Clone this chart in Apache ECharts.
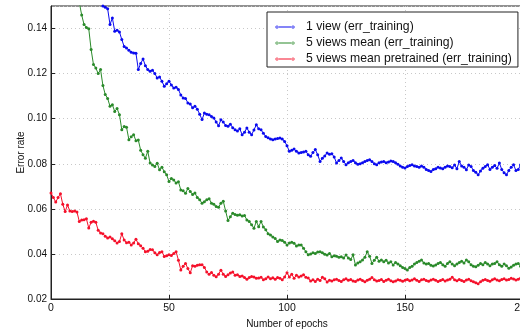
<!DOCTYPE html>
<html><head><meta charset="utf-8">
<script src="https://cdn.jsdelivr.net/npm/echarts@6/dist/echarts.min.js"></script>
<style>html,body{margin:0;padding:0;background:#fff}#c{width:520px;height:334px}</style>
</head><body><div id="c"></div>
<script>
const seriesNames = ['1 view (err_training)', '5 views mean (err_training)', '5 views mean pretrained (err_training)'];
const xTicks = [0, 50, 100, 150, 200];
const yTicks = [0.02, 0.04, 0.06, 0.08, 0.10, 0.12, 0.14];

const blueStart = 20;
const blue = [
0.160,0.155,0.150,0.1495,0.1488,0.1418,0.1447,0.1388,0.1392,0.1385,
0.1351,0.132,0.1314,0.1304,0.1295,0.1292,0.129,0.1218,0.1245,0.1265,
0.1235,0.1218,0.121,0.1215,0.120,0.1181,0.1185,0.1166,0.1144,0.1155,
0.1166,0.115,0.1136,0.114,0.1129,0.1105,0.1092,0.109,0.107,0.1065,
0.1048,0.1055,0.1042,0.102,0.0996,0.1025,0.102,0.1018,0.101,0.1003,
0.0985,0.0969,0.0995,0.0985,0.097,0.0966,0.0975,0.096,0.0951,0.0945,
0.0955,0.0929,0.094,0.0959,0.094,0.0929,0.095,0.0973,0.0955,0.0951,
0.0935,0.0921,0.0915,0.091,0.0907,0.091,0.0912,0.0914,0.091,0.0899,
0.088,0.0855,0.086,0.0865,0.0855,0.0848,0.085,0.0852,0.0855,0.084,
0.0833,0.085,0.0863,0.084,0.081,0.0825,0.0835,0.0848,0.0842,0.0845,
0.083,0.0803,0.0815,0.0826,0.081,0.0796,0.0805,0.081,0.0815,0.0805,
0.0798,0.080,0.0805,0.081,0.0815,0.0818,0.081,0.080,0.0796,0.0805,
0.0808,0.081,0.0805,0.0808,0.0812,0.081,0.0805,0.0798,0.079,0.0785,
0.0781,0.0788,0.0792,0.0796,0.079,0.0788,0.0785,0.079,0.0785,0.0775,
0.077,0.0766,0.0775,0.0778,0.0785,0.0781,0.0778,0.0785,0.079,0.0788,
0.0782,0.0795,0.0778,0.081,0.079,0.0785,0.0774,0.0795,0.0788,0.077,
0.0762,0.0751,0.0768,0.078,0.0788,0.0796,0.0775,0.0785,0.0792,0.078,
0.0803,0.0775,0.076,0.0751,0.077,0.0785,0.0796,0.077,0.0775,0.0795,
0.0768
];

const greenStart = 10;
const green = [
0.162,0.156,0.1515,0.146,0.1418,0.1405,0.1399,0.1307,0.124,0.1225,
0.120,0.1218,0.1147,0.1107,0.109,0.1055,0.1062,0.1032,0.1045,0.1018,
0.0951,0.0965,0.0962,0.0907,0.092,0.0929,0.0902,0.0905,0.086,0.084,
0.0825,0.0855,0.0803,0.0795,0.0788,0.0802,0.0773,0.0785,0.0765,0.0751,
0.0721,0.0735,0.0728,0.0715,0.072,0.0684,0.068,0.0669,0.069,0.0677,
0.0664,0.067,0.065,0.064,0.0625,0.0632,0.064,0.0645,0.0625,0.062,
0.061,0.0607,0.0625,0.0634,0.059,0.0548,0.0565,0.058,0.0575,0.0572,
0.0574,0.0568,0.057,0.0551,0.0544,0.0529,0.0514,0.0544,0.0521,0.0544,
0.052,0.0507,0.049,0.0484,0.0475,0.0468,0.0455,0.0462,0.046,0.0452,
0.044,0.0448,0.0452,0.0447,0.0435,0.044,0.044,0.0425,0.041,0.0396,
0.040,0.0405,0.0402,0.0408,0.041,0.0405,0.0398,0.0395,0.0402,0.0387,
0.0392,0.039,0.0385,0.0387,0.0382,0.0395,0.0382,0.0375,0.0396,0.0351,
0.036,0.0365,0.0373,0.0385,0.041,0.039,0.0358,0.0372,0.0385,0.0368,
0.0373,0.0365,0.0372,0.036,0.0365,0.0351,0.0362,0.0355,0.0348,0.034,
0.0335,0.0329,0.034,0.0345,0.0355,0.0362,0.0368,0.0373,0.036,0.0355,
0.0358,0.035,0.0346,0.0351,0.0358,0.0362,0.0352,0.0345,0.0358,0.0365,
0.0355,0.0348,0.0355,0.0362,0.0368,0.036,0.0373,0.0365,0.0352,0.0345,
0.0343,0.035,0.0358,0.0352,0.0362,0.0355,0.0348,0.0355,0.0358,0.0365,
0.0352,0.0345,0.0355,0.0348,0.0336,0.0342,0.035,0.0355,0.0358,0.0345,
0.0352
];

const redStart = 0;
const red = [
0.067,0.065,0.063,0.065,0.0667,0.062,0.0588,0.0617,0.059,0.0588,
0.059,0.0586,0.0544,0.055,0.0552,0.0556,0.0515,0.054,0.0545,0.054,
0.0505,0.0493,0.049,0.0478,0.0471,0.0475,0.0467,0.0458,0.0449,0.0455,
0.0489,0.0462,0.045,0.0452,0.044,0.0448,0.0465,0.0445,0.0436,0.0425,
0.041,0.0412,0.042,0.0418,0.0405,0.0396,0.0406,0.041,0.0389,0.0392,
0.0396,0.0393,0.0402,0.041,0.0372,0.0329,0.0345,0.0358,0.0335,0.0316,
0.0348,0.0345,0.035,0.0352,0.0352,0.034,0.032,0.031,0.0318,0.0305,
0.0299,0.031,0.0328,0.031,0.030,0.0308,0.0315,0.032,0.0305,0.0308,
0.030,0.0302,0.0295,0.0288,0.0295,0.030,0.0298,0.0292,0.0293,0.0296,
0.0285,0.029,0.0298,0.029,0.0294,0.0288,0.0295,0.0292,0.0285,0.0298,
0.0317,0.0298,0.031,0.0292,0.0305,0.0298,0.0302,0.0308,0.0296,0.0293,
0.028,0.0285,0.0278,0.0288,0.0282,0.0296,0.029,0.0275,0.0283,0.028,
0.0285,0.0288,0.0282,0.0278,0.0285,0.029,0.0283,0.0286,0.028,0.0278,
0.0284,0.0288,0.0282,0.0276,0.0283,0.0288,0.0295,0.0285,0.028,0.0282,
0.0286,0.0278,0.0283,0.0288,0.0281,0.0276,0.028,0.0285,0.0283,0.0279,
0.0283,0.0287,0.0281,0.0284,0.029,0.0283,0.0278,0.0285,0.0288,0.0282,
0.0279,0.0284,0.0288,0.0283,0.0278,0.0282,0.0286,0.028,0.0284,0.0288,
0.0296,0.0285,0.0281,0.0286,0.0282,0.0278,0.0284,0.0288,0.0281,0.0276,
0.0272,0.0268,0.0276,0.0283,0.0287,0.0282,0.0279,0.0285,0.029,0.0284,
0.0281,0.0286,0.029,0.0284,0.0286,0.0292,0.0289,0.0284,0.0288,0.0293,
0.0291
];

const colors = ['#0a0aef', '#2a8a2a', '#f5102a'];
const font = 'Liberation Sans, Arial, sans-serif';
const toPairs = (arr, start) => arr.map((v, i) => [start + i, v]);
const seriesData = [toPairs(blue, blueStart), toPairs(green, greenStart), toPairs(red, redStart)];
const legendIcon = 'path://M0,3.5L20,3.5L20,4.5L0,4.5Z M0.5,4a1.5,1.5 0 1,0 3,0a1.5,1.5 0 1,0 -3,0Z M16.5,4a1.5,1.5 0 1,0 3,0a1.5,1.5 0 1,0 -3,0Z';

const chart = echarts.init(document.getElementById('c'), null, {renderer: 'canvas'});
chart.setOption({
  animation: false,
  backgroundColor: '#fff',
  grid: {left: 51, top: 6, width: 472, height: 293, show: true, borderColor: '#222', borderWidth: 1,
    backgroundColor: '#fff', outerBoundsMode: 'none', containLabel: false},
  legend: {
    orient: 'vertical', left: 267, top: 12,
    data: seriesNames.map(n => ({name: n, icon: legendIcon})),
    borderColor: '#222', borderWidth: 1, backgroundColor: '#fff', borderRadius: 0,
    padding: [9, 6, 2, 8], itemGap: 4, itemWidth: 20, itemHeight: 4,
    textStyle: {fontFamily: font, fontSize: 12.2, color: '#111', padding: [0, 0, 0, 6]}
  },
  xAxis: {
    type: 'value', min: xTicks[0], max: xTicks[xTicks.length - 1], interval: 50,
    name: 'Number of epochs', nameLocation: 'middle', nameGap: 20, nameMoveOverlap: false,
    nameTextStyle: {fontFamily: font, fontSize: 10, color: '#111'},
    axisLine: {show: true, onZero: false, lineStyle: {color: '#222', width: 1}},
    axisTick: {show: true, inside: true, length: 4, lineStyle: {color: '#222'}},
    axisLabel: {fontFamily: font, fontSize: 10.5, color: '#111', margin: 4},
    splitLine: {show: true, lineStyle: {color: '#c8c8c8', type: [1, 3], width: 1}}
  },
  yAxis: {
    type: 'value', min: yTicks[0], max: 0.15, interval: 0.02,
    name: 'Error rate', nameLocation: 'middle', nameGap: 25, nameRotate: 90, nameMoveOverlap: false,
    nameTextStyle: {fontFamily: font, fontSize: 10, color: '#111'},
    axisLine: {show: true, lineStyle: {color: '#222', width: 1}},
    axisTick: {show: true, inside: true, length: 4, lineStyle: {color: '#222'}},
    axisLabel: {fontFamily: font, fontSize: 10, color: '#111', margin: 4, showMaxLabel: false,
      formatter: v => v.toFixed(2)},
    splitLine: {show: true, lineStyle: {color: '#c8c8c8', type: [1, 3], width: 1}}
  },
  series: seriesData.map((d, i) => ({
    name: seriesNames[i], type: 'line', data: d, clip: true,
    symbol: 'circle', symbolSize: 3, showSymbol: true,
    lineStyle: {color: colors[i], width: 1},
    itemStyle: {color: colors[i]},
    z: 3 - i
  }))
});
</script></body></html>
